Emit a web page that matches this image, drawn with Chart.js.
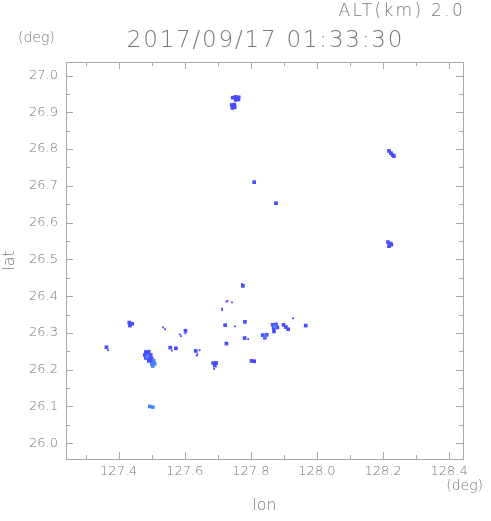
<!DOCTYPE html>
<html>
<head>
<meta charset="utf-8">
<script src="https://cdn.jsdelivr.net/npm/chart.js@4.4.1/dist/chart.umd.min.js"></script>
<style>
html, body { margin: 0; padding: 0; background: #fff; }
</style>
</head>
<body>
<canvas id="echo_chart" width="491" height="521"></canvas>
<script>
// echo cells at ALT 2.0 km
var cellLon = [127.745, 127.754, 127.763, 127.754, 127.762, 127.742, 127.750, 127.744, 127.751,
    127.810, 127.876,
    128.218, 128.224, 128.229, 128.233, 128.215, 128.223, 128.218, 128.225,
    127.432, 127.441, 127.434, 127.363,
    127.482, 127.491, 127.479, 127.488, 127.497, 127.482, 127.491, 127.500, 127.491, 127.500,
    127.556, 127.573, 127.602, 127.633, 127.686, 127.695, 127.691,
    127.722, 127.782, 127.781, 127.776, 127.726, 127.802, 127.810,
    127.836, 127.848, 127.842, 127.866, 127.876, 127.869, 127.880, 127.870,
    127.899, 127.906, 127.913, 127.966];
var cellLat = [26.940, 26.942, 26.941, 26.934, 26.935, 26.920, 26.921, 26.912, 26.914,
    26.710, 26.653,
    26.795, 26.789, 26.784, 26.781, 26.547, 26.543, 26.536, 26.540,
    26.328, 26.325, 26.320, 26.261,
    26.248, 26.249, 26.240, 26.240, 26.240, 26.232, 26.232, 26.230, 26.224, 26.223,
    26.260, 26.258, 26.306, 26.251, 26.218, 26.218, 26.211,
    26.321, 26.330, 26.286, 26.428, 26.271, 26.224, 26.223,
    26.294, 26.295, 26.287, 26.322, 26.323, 26.313, 26.315, 26.304,
    26.322, 26.316, 26.310, 26.320];

var lightLon = [127.506, 127.500, 127.509, 127.503, 127.486, 127.494, 127.503, 127.843, 127.872];
var lightLat = [26.224, 26.215, 26.216, 26.210, 26.236, 26.100, 26.098, 26.291, 26.318];

var speckLon = [127.368, 127.534, 127.540, 127.561, 127.585, 127.589, 127.602, 127.645, 127.638,
    127.636, 127.689, 127.726, 127.729, 127.743, 127.713, 127.713, 127.752, 127.792, 127.773, 127.928];
var speckLat = [26.253, 26.315, 26.310, 26.252, 26.296, 26.291, 26.299, 26.253, 26.242,
    26.238, 26.202, 26.385, 26.387, 26.383, 26.362, 26.366, 26.318, 26.283, 26.433, 26.340];

var xMajor = [127.4, 127.6, 127.8, 128.0, 128.2, 128.4];
var xMinor = [127.3, 127.5, 127.7, 127.9, 128.1, 128.3];
var yMajor = [26.0, 26.1, 26.2, 26.3, 26.4, 26.5, 26.6, 26.7, 26.8, 26.9, 27.0];
var yMinor = [26.05, 26.15, 26.25, 26.35, 26.45, 26.55, 26.65, 26.75, 26.85, 26.95];

var titleText = '2017/09/17 01:33:30';
var altText = 'ALT(km) 2.0';

var FONT = 'DejaVu Sans';
var GREY = '#787878';

function toPoints(lons, lats) {
    var pts = [];
    for (var i = 0; i < lons.length; i++) {
        pts.push({x: lons[i], y: lats[i]});
    }
    return pts;
}

// box with inward ticks on all four sides, plus the header texts
var framePlugin = {
    id: 'frame',
    afterDraw: function (chart) {
        var ctx = chart.ctx;
        var a = chart.chartArea;
        var xs = chart.scales.x, ys = chart.scales.y;
        ctx.save();
        ctx.strokeStyle = '#a8a8a8';
        ctx.lineWidth = 1;
        ctx.strokeRect(a.left + 0.5, a.top + 0.5, a.right - a.left, a.bottom - a.top);

        function xTick(v, len) {
            var px = Math.round(xs.getPixelForValue(v)) + 0.5;
            ctx.beginPath();
            ctx.moveTo(px, a.bottom); ctx.lineTo(px, a.bottom - len);
            ctx.moveTo(px, a.top); ctx.lineTo(px, a.top + len);
            ctx.stroke();
        }
        function yTick(v, len) {
            var py = Math.round(ys.getPixelForValue(v)) + 0.5;
            ctx.beginPath();
            ctx.moveTo(a.left, py); ctx.lineTo(a.left + len, py);
            ctx.moveTo(a.right, py); ctx.lineTo(a.right - len, py);
            ctx.stroke();
        }
        xMajor.forEach(function (v) { xTick(v, 7); });
        xMinor.forEach(function (v) { xTick(v, 4); });
        yMajor.forEach(function (v) { yTick(v, 7); });
        yMinor.forEach(function (v) { yTick(v, 4); });

        ctx.fillStyle = GREY;
        ctx.textBaseline = 'alphabetic';
        ctx.font = '200 17px "' + FONT + '"';
        ctx.letterSpacing = '2.3px';
        ctx.textAlign = 'right';
        ctx.fillText(altText, a.right + 2, 16);

        ctx.font = '200 23px "' + FONT + '"';
        ctx.letterSpacing = '1.8px';
        ctx.textAlign = 'center';
        ctx.fillText(titleText, (a.left + a.right) / 2 + 1, 47);

        ctx.font = '200 14px "' + FONT + '"';
        ctx.letterSpacing = '0px';
        ctx.textBaseline = 'middle';
        ctx.textAlign = 'left';
        ctx.fillText('(deg)', 18, 38);
        ctx.textAlign = 'right';
        ctx.fillText('(deg)', 483, 486);
        ctx.restore();
    }
};

var data = {
    datasets: [{
            label: 'light',
            data: toPoints(lightLon, lightLat),
            pointStyle: 'rect',
            pointRadius: 2.6,
            pointBorderWidth: 0,
            backgroundColor: '#4f82ff'
        }, {
            label: 'cells',
            data: toPoints(cellLon, cellLat),
            pointStyle: 'rect',
            pointRadius: 2.6,
            pointBorderWidth: 0,
            backgroundColor: '#4a4aff'
        }, {
            label: 'specks',
            data: toPoints(speckLon, speckLat),
            pointStyle: 'rect',
            pointRadius: 1.3,
            pointBorderWidth: 0,
            backgroundColor: '#4a4aff'
        }]
};

var config = {
    type: 'scatter',
    data: data,
    options: {
        responsive: false,
        animation: false,
        layout: {padding: {top: 62, right: 28, left: 0, bottom: 0}},
        plugins: {legend: {display: false}, tooltip: {enabled: false}},
        scales: {
            x: {
                type: 'linear',
                position: 'bottom',
                min: 127.2405,
                max: 128.442,
                afterBuildTicks: function (scale) {
                    scale.ticks = xMajor.map(function (v) { return {value: v}; });
                },
                afterFit: function (scale) { scale.height = 62; },
                grid: {display: false, drawTicks: false},
                border: {display: false},
                ticks: {
                    padding: 5,
                    color: GREY,
                    font: {family: FONT, size: 13, weight: 200},
                    maxRotation: 0,
                    autoSkip: false,
                    callback: function (v) { return Number(v).toFixed(1); }
                },
                title: {
                    display: true,
                    text: 'lon',
                    color: GREY,
                    font: {family: FONT, size: 16, weight: 200},
                    padding: {top: 0, bottom: 6}
                }
            },
            y: {
                type: 'linear',
                position: 'left',
                min: 25.957,
                max: 27.037,
                afterBuildTicks: function (scale) {
                    scale.ticks = yMajor.map(function (v) { return {value: v}; });
                },
                afterFit: function (scale) { scale.width = 66; },
                grid: {display: false, drawTicks: false},
                border: {display: false},
                ticks: {
                    padding: 8,
                    color: GREY,
                    font: {family: FONT, size: 13, weight: 200},
                    autoSkip: false,
                    callback: function (v) { return Number(v).toFixed(1); }
                },
                title: {
                    display: true,
                    text: 'lat',
                    color: GREY,
                    font: {family: FONT, size: 16, weight: 200},
                    padding: {top: 0, bottom: 0}
                }
            }
        }
    },
    plugins: [framePlugin]
};

var echoChart = new Chart(document.getElementById('echo_chart'), config);
</script>
</body>
</html>
